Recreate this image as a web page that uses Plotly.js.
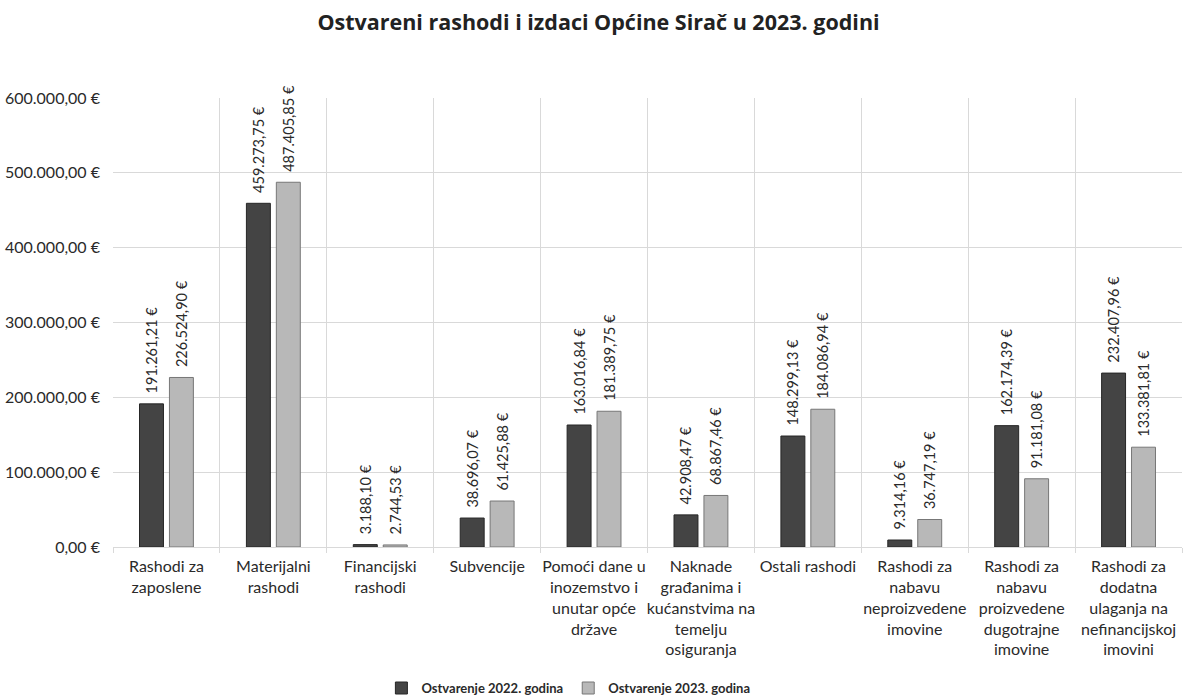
<!DOCTYPE html>
<html>
<head>
<meta charset="utf-8">
<script src="https://cdn.plot.ly/plotly-3.0.1.min.js"></script>
<style>html,body{margin:0;padding:0;background:#fff;}#chart{width:1197px;height:695px;}</style>
</head>
<body>
<div id="chart"></div>
<script>
const categories = [
  "Rashodi za<br>zaposlene",
  "Materijalni<br>rashodi",
  "Financijski<br>rashodi",
  "Subvencije",
  "Pomoći dane u<br>inozemstvo i<br>unutar opće<br>države",
  "Naknade<br>građanima i<br>kućanstvima na<br>temelju<br>osiguranja",
  "Ostali rashodi",
  "Rashodi za<br>nabavu<br>neproizvedene<br>imovine",
  "Rashodi za<br>nabavu<br>proizvedene<br>dugotrajne<br>imovine",
  "Rashodi za<br>dodatna<br>ulaganja na<br>nefinancijskoj<br>imovini"
];
const values2022 = [191261.21, 459273.75, 3188.10, 38696.07, 163016.84, 42908.47, 148299.13, 9314.16, 162174.39, 232407.96];
const values2023 = [226524.90, 487405.85, 2744.53, 61425.88, 181389.75, 68867.46, 184086.94, 36747.19, 91181.08, 133381.81];
const tickVals = [0, 100000, 200000, 300000, 400000, 500000, 600000];
const tickText = ["0,00 €", "100.000,00 €", "200.000,00 €", "300.000,00 €", "400.000,00 €", "500.000,00 €", "600.000,00 €"];
const seriesNames = ["Ostvarenje 2022. godina", "Ostvarenje 2023. godina"];

function fmt(v) {
  const parts = v.toFixed(2).split(".");
  const intPart = parts[0].replace(/\B(?=(\d{3})+(?!\d))/g, ".");
  return "\u00a0\u00a0" + intPart + "," + parts[1] + " €";
}

const font = "Lato, 'Open Sans', sans-serif";

const t1 = {
  type: "bar", name: seriesNames[0], x: categories, y: values2022,
  text: values2022.map(fmt), textposition: "outside", textangle: -90,
  constraintext: "none", cliponaxis: false,
  textfont: {family: font, size: 14.5, color: "#2a2a2a"},
  marker: {color: "#444444", line: {color: "#262626", width: 1}},
  hoverinfo: "none"
};
const t2 = {
  type: "bar", name: seriesNames[1], x: categories, y: values2023,
  text: values2023.map(fmt), textposition: "outside", textangle: -90,
  constraintext: "none", cliponaxis: false,
  textfont: {family: font, size: 14.5, color: "#2a2a2a"},
  marker: {color: "#b8b8b8", line: {color: "#777777", width: 1}},
  hoverinfo: "none"
};

const layout = {
  width: 1197, height: 695,
  margin: {l: 113, r: 15, t: 98, b: 148},
  paper_bgcolor: "#fff", plot_bgcolor: "#fff",
  title: {text: "<b>Ostvareni rashodi i izdaci Općine Sirač u 2023. godini</b>",
          font: {family: "'Open Sans', Lato, sans-serif", size: 21.5, color: "#222"},
          x: 0.5, xanchor: "center", y: 0.968, yanchor: "middle"},
  barmode: "group", bargap: 0.44, bargroupgap: 0.2,
  xaxis: {
    type: "category", tickson: "boundaries", showgrid: true, gridcolor: "#d9d9d9", gridwidth: 1,
    ticks: "outside", ticklen: 5, tickcolor: "#d9d9d9", ticklabelstandoff: 5,
    showline: true, linecolor: "#d9d9d9",
    tickfont: {family: font, size: 16, color: "#2a2a2a"}, tickangle: 0, automargin: false
  },
  yaxis: {
    range: [0, 600000], tickvals: tickVals, ticktext: tickText,
    showgrid: true, gridcolor: "#d9d9d9", zeroline: false, ticklabelstandoff: 12,
    tickfont: {family: font, size: 16, color: "#2a2a2a"}, ticks: "", automargin: false
  },
  showlegend: true,
  legend: {orientation: "h", x: 0.426, xanchor: "center", xref: "paper",
           y: 0.01, yref: "container", yanchor: "middle",
           font: {family: font, size: 13, color: "#2a2a2a", weight: "bold"}, itemwidth: 30, traceorder: "normal"},
  font: {family: font}
};

Plotly.newPlot("chart", [t1, t2], layout, {displayModeBar: false, staticPlot: true});
</script>
</body>
</html>
